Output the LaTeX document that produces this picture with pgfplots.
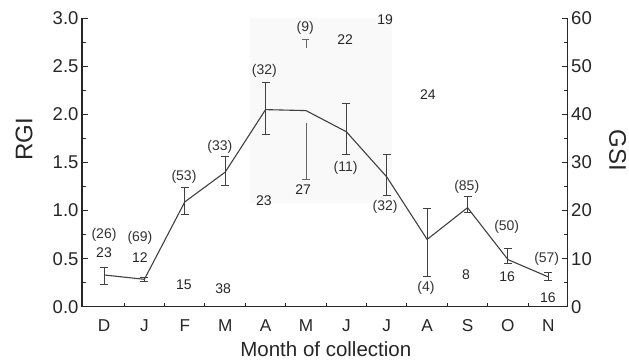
\documentclass[border=0pt]{standalone}
\usepackage{fontspec}
\setmainfont{Liberation Sans}
\usepackage{pgfplots}
\pgfplotsset{compat=1.18}
\begin{document}
\begin{tikzpicture}
\path[use as bounding box] (-82pt,-54.3pt) rectangle (547pt,306.7pt);
\begin{axis}[
  at={(0,0)}, anchor=south west,
  scale only axis, width=485.7pt, height=288.4pt,
  xmin=-0.545, xmax=11.48, ymin=0, ymax=3,
  axis x line*=bottom, axis y line*=left,
  axis line style={line width=1.2pt, black!85},
  every tick/.style={line width=1pt, black!85},
  tick align=inside,
  major tick length=6pt, minor tick length=4pt,
  xtick={0,...,11}, xticklabels={D,J,F,M,A,M,J,J,A,S,O,N},
  major x tick style={draw=none},
  minor xtick={0.5,1.5,...,10.5},
  ytick={0,0.5,...,3}, minor ytick={0.25,0.75,...,2.75},
  /pgf/number format/assume math mode=true,
  yticklabel style={/pgf/number format/fixed, /pgf/number format/fixed zerofill, /pgf/number format/precision=1, font=\fontsize{18.5}{20}\selectfont, text=black!85},
  xticklabel style={anchor=base, yshift=-24.3pt, font=\fontsize{17.2}{18}\selectfont, text=black!85},
  ylabel={RGI},
  ylabel style={at={(rel axis cs:-0.119,0.581)}, anchor=center, rotate=0, font=\fontsize{24}{24}\selectfont, text=black!85},
  xlabel={Month of collection},
  xlabel style={at={(rel axis cs:0.502,-0.147)}, anchor=center, font=\fontsize{20.5}{22}\selectfont, text=black!85},
  clip=false,
]
\fill[black!2.5] (axis cs:3.61,1.08) rectangle (axis cs:7.13,3.0);
% main RGI series (line)
\addplot[black!75, line width=1.1pt] table[x=x, y=y] {
x y
0 0.33
1 0.285
2 1.09
3 1.40
4 2.05
5 2.04
6 1.82
7 1.35
8 0.70
9 1.03
10 0.49
11 0.31
};
% error bars of the RGI series
\addplot[draw=none,
  error bars/.cd, y dir=both, y explicit,
  error bar style={line width=0.9pt, black!75},
  error mark options={rotate=90, mark size=4pt, line width=0.9pt, black!75}]
  table[x=x, y=y, y error plus=ep, y error minus=em] {
x y ep em
0 0.33 0.08 0.10
1 0.285 0.02 0.02
2 1.09 0.15 0.135
3 1.40 0.16 0.14
4 2.05 0.28 0.26
6 1.82 0.29 0.24
7 1.35 0.23 0.19
8 0.70 0.32 0.39
9 1.03 0.12 0.05
10 0.49 0.12 0.04
11 0.31 0.05 0.04
};
% stray error bars around May
\addplot[draw=none,
  error bars/.cd, y dir=minus, y explicit,
  error bar style={line width=0.9pt, black!60},
  error mark options={rotate=90, mark size=4pt, line width=0.9pt, black!60}]
  table[x=x, y=y, y error minus=em] {
x y em
5 1.91 0.59
};
\addplot[draw=none,
  error bars/.cd, y dir=plus, y explicit,
  error bar style={line width=0.9pt, black!60},
  error mark options={rotate=90, mark size=3.5pt, line width=0.9pt, black!60}]
  table[x=x, y=y, y error plus=ep] {
x y ep
5 2.69 0.09
};
% sample sizes
\addplot[draw=none, nodes near coords, point meta=explicit symbolic,
  nodes near coords style={anchor=center, font=\fontsize{14}{14}\selectfont, text=black!80}]
  table[meta=lab] {
x y lab
0 0.747 (26)
0.89 0.716 (69)
1.98 1.35 (53)
2.87 1.667 (33)
3.97 2.45 (32)
4.98 2.90 (9)
5.98 1.445 (11)
6.96 1.04 (32)
7.97 0.195 (4)
8.98 1.25 (85)
9.97 0.833 (50)
10.96 0.494 (57)
};
% plain numbers
\addplot[draw=none, nodes near coords, point meta=explicit symbolic,
  nodes near coords style={anchor=center, font=\fontsize{14}{14}\selectfont, text=black!85}]
  table[meta=lab] {
x y lab
0 0.56 23
0.89 0.51 12
1.98 0.23 15
2.95 0.19 38
3.96 1.10 23
4.93 1.22 27
5.97 2.78 22
6.96 2.99 19
8.02 2.21 24
8.96 0.33 8
9.98 0.31 16
10.99 0.09 16
};
\end{axis}
\begin{axis}[
  at={(0,0)}, anchor=south west,
  scale only axis, width=485.7pt, height=288.4pt,
  xmin=-0.545, xmax=11.48, ymin=0, ymax=60,
  axis x line=none, axis y line*=right,
  axis line style={line width=1.2pt, black!85},
  every tick/.style={line width=1pt, black!85},
  tick align=inside,
  major tick length=6pt, minor tick length=4pt,
  ytick={0,10,...,60}, minor ytick={5,15,...,55},
  /pgf/number format/assume math mode=true,
  yticklabel style={font=\fontsize{18.5}{20}\selectfont, text=black!85},
  ylabel={GSI},
  ylabel style={at={(rel axis cs:1.103,0.543)}, anchor=center, rotate=180, font=\fontsize{24}{24}\selectfont, text=black!85},
]
\end{axis}
\end{tikzpicture}
\end{document}
